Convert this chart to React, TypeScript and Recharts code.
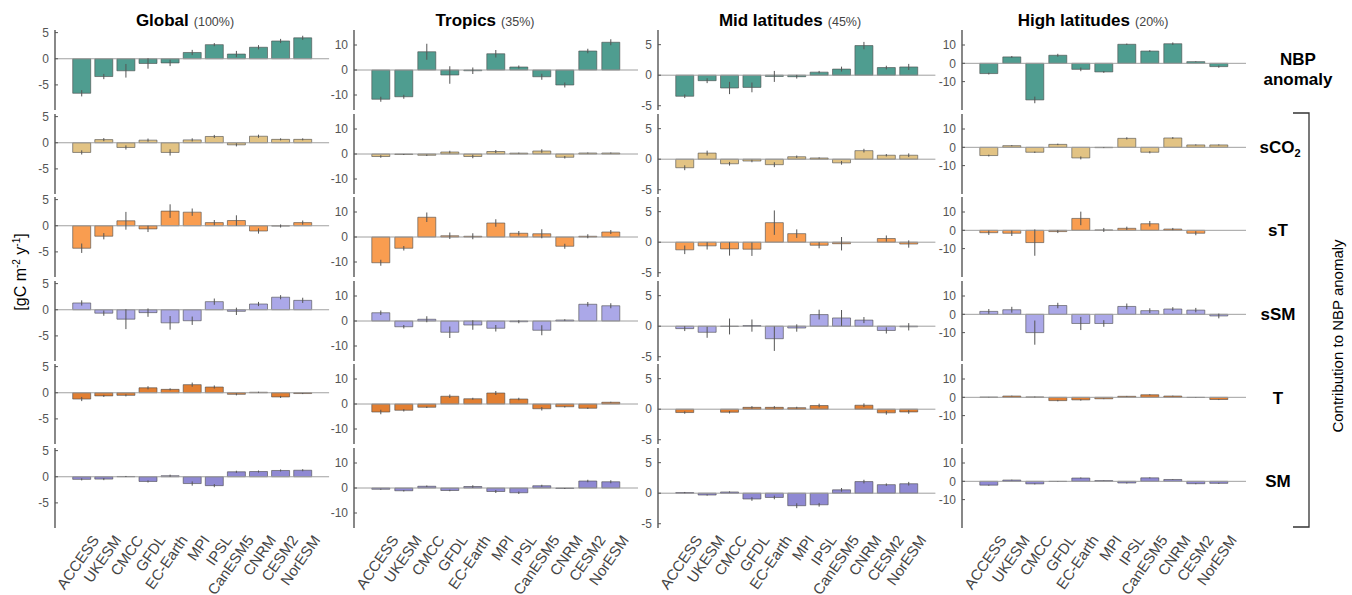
import React from 'react';
import {
  BarChart,
  Bar,
  XAxis,
  YAxis,
  ErrorBar,
  ReferenceLine,
} from 'recharts';

const models = ['ACCESS', 'UKESM', 'CMCC', 'GFDL', 'EC-Earth', 'MPI', 'IPSL', 'CanESM5', 'CNRM', 'CESM2', 'NorESM'];

// Global
const globalNbp = [-6.6, -3.4, -2.3, -0.9, -0.8, 1.2, 2.7, 0.9, 2.2, 3.4, 4.0];
const globalNbpErr = [0.6, 0.5, 1.3, 1.0, 0.6, 0.5, 0.3, 0.6, 0.4, 0.4, 0.4];
const globalSco2 = [-1.85, 0.6, -0.9, 0.5, -1.85, 0.55, 1.2, -0.4, 1.25, 0.65, 0.65];
const globalSco2Err = [0.4, 0.3, 0.4, 0.3, 0.6, 0.3, 0.3, 0.3, 0.3, 0.2, 0.2];
const globalSt = [-4.3, -2.0, 0.95, -0.6, 2.8, 2.6, 0.6, 1.0, -1.0, -0.05, 0.6];
const globalStErr = [0.9, 0.6, 1.7, 0.6, 1.3, 0.7, 0.5, 1.0, 0.5, 0.3, 0.4];
const globalSsm = [1.3, -0.65, -1.8, -0.55, -2.5, -2.1, 1.55, -0.3, 1.1, 2.4, 1.8];
const globalSsmErr = [0.5, 0.5, 1.9, 0.8, 1.3, 0.8, 0.6, 0.7, 0.4, 0.4, 0.5];
const globalT = [-1.2, -0.6, -0.5, 0.95, 0.65, 1.55, 1.1, -0.3, 0.1, -0.8, -0.15];
const globalTErr = [0.4, 0.2, 0.2, 0.3, 0.2, 0.4, 0.3, 0.2, 0.1, 0.2, 0.1];
const globalSm = [-0.5, -0.45, 0.05, -0.9, 0.2, -1.3, -1.7, 0.95, 1.0, 1.2, 1.25];
const globalSmErr = [0.2, 0.2, 0.1, 0.2, 0.2, 0.4, 0.3, 0.2, 0.2, 0.2, 0.2];

// Tropics
const tropicsNbp = [-11.7, -10.7, 7.3, -2.0, -0.3, 6.5, 1.2, -2.7, -6.0, 7.6, 11.1];
const tropicsNbpErr = [1.0, 0.8, 3.2, 3.5, 1.3, 1.5, 0.6, 1.2, 1.0, 0.9, 1.2];
const tropicsSco2 = [-1.0, -0.2, -0.5, 0.8, -1.0, 1.0, 0.35, 1.2, -1.3, 0.4, 0.4];
const tropicsSco2Err = [0.5, 0.2, 0.3, 0.5, 0.7, 0.6, 0.2, 0.7, 0.5, 0.2, 0.2];
const tropicsSt = [-10.3, -4.5, 7.9, 0.5, 0.3, 5.6, 1.5, 1.3, -3.7, 0.3, 2.0];
const tropicsStErr = [1.2, 0.9, 1.9, 1.3, 1.2, 1.5, 0.9, 1.8, 1.0, 0.8, 0.8];
const tropicsSsm = [3.3, -2.3, 0.7, -4.5, -1.6, -2.9, -0.3, -3.7, 0.4, 6.7, 6.1];
const tropicsSsmErr = [0.9, 0.7, 1.2, 2.3, 1.9, 1.3, 0.6, 2.0, 0.3, 0.9, 1.0];
const tropicsT = [-3.2, -2.5, -1.3, 3.1, 2.1, 4.4, 2.0, -1.9, -1.1, -1.7, 0.7];
const tropicsTErr = [0.9, 0.5, 0.3, 0.7, 0.4, 0.8, 0.5, 0.7, 0.3, 0.3, 0.2];
const tropicsSm = [-0.5, -1.1, 0.7, -1.0, 0.6, -1.4, -1.9, 0.9, -0.2, 2.8, 2.5];
const tropicsSmErr = [0.2, 0.3, 0.3, 0.3, 0.5, 0.6, 0.5, 0.4, 0.2, 0.5, 0.6];

// Mid latitudes
const midNbp = [-3.45, -0.9, -2.1, -2.0, -0.2, -0.25, 0.5, 1.0, 4.85, 1.25, 1.35];
const midNbpErr = [0.3, 0.4, 1.0, 0.8, 0.9, 0.3, 0.2, 0.4, 0.6, 0.3, 0.5];
const midSco2 = [-1.4, 1.0, -0.75, -0.3, -0.9, 0.4, 0.2, -0.6, 1.4, 0.65, 0.65];
const midSco2Err = [0.4, 0.4, 0.3, 0.2, 0.4, 0.2, 0.1, 0.3, 0.3, 0.2, 0.3];
const midSt = [-1.25, -0.6, -1.1, -1.15, 3.2, 1.4, -0.5, -0.25, 0, 0.6, -0.3];
const midStErr = [0.7, 0.6, 1.1, 1.1, 2.0, 0.7, 0.5, 1.1, 0.7, 0.5, 0.6];
const midSsm = [-0.4, -1.0, -0.05, 0.1, -2.05, -0.3, 1.9, 1.35, 1.0, -0.7, -0.1];
const midSsmErr = [0.4, 0.9, 1.3, 1.0, 2.0, 0.6, 0.8, 1.3, 0.5, 0.5, 0.6];
const midT = [-0.55, 0, -0.5, 0.3, 0.3, 0.25, 0.6, 0, 0.65, -0.6, -0.45];
const midTErr = [0.2, 0.05, 0.2, 0.2, 0.2, 0.15, 0.3, 0.2, 0.3, 0.3, 0.3];
const midSm = [0.1, -0.3, 0.2, -0.95, -0.7, -2.05, -1.9, 0.55, 1.9, 1.4, 1.55];
const midSmErr = [0.1, 0.1, 0.1, 0.3, 0.3, 0.4, 0.3, 0.3, 0.3, 0.2, 0.3];

// High latitudes
const highNbp = [-5.6, 3.5, -20.0, 4.4, -3.3, -4.7, 10.4, 6.7, 10.7, 0.9, -1.8];
const highNbpErr = [0.5, 0.5, 1.8, 0.8, 1.0, 0.5, 0.4, 0.5, 0.7, 0.2, 0.6];
const highSco2 = [-4.5, 0.9, -2.7, 1.6, -5.8, -0.2, 4.9, -2.7, 5.1, 1.3, 1.3];
const highSco2Err = [0.5, 0.3, 0.4, 0.4, 0.8, 0.2, 0.6, 0.6, 0.5, 0.3, 0.3];
const highSt = [-1.3, -1.6, -6.7, -0.7, 6.5, 0.2, 1.1, 3.6, 0.7, -1.6, 0];
const highStErr = [1.2, 1.5, 7.2, 0.8, 3.7, 1.1, 0.9, 1.5, 0.6, 1.1, 1.3];
const highSsm = [1.6, 2.5, -10.0, 4.8, -5.0, -5.0, 4.3, 2.0, 2.9, 2.3, -0.9];
const highSsmErr = [1.3, 1.6, 6.6, 1.5, 3.6, 1.8, 1.6, 1.3, 1.0, 1.2, 1.3];
const highT = [0.1, 0.7, 0.2, -1.8, -1.4, -0.8, 0.55, 1.4, 0.7, -0.1, -1.2];
const highTErr = [0.1, 0.2, 0.2, 0.4, 0.4, 0.2, 0.2, 0.3, 0.2, 0.1, 0.3];
const highSm = [-2.1, 0.7, -1.4, -0.1, 1.8, 0.4, -0.9, 1.9, 1.0, -1.3, -1.1];
const highSmErr = [0.3, 0.2, 0.3, 0.1, 0.3, 0.1, 0.3, 0.3, 0.2, 0.3, 0.3];

const rowColors = ['#4f9d90', '#e2c384', '#f99d50', '#aba8e8', '#e27f32', '#8f89d3'];

const columns = [
  {
    title: 'Global', share: '(100%)', titleX: 185, axisX: 55, band: 22.1,
    domain: [-9.8, 5.5], ticks: [-5, 0, 5],
    vals: [globalNbp, globalSco2, globalSt, globalSsm, globalT, globalSm],
    errs: [globalNbpErr, globalSco2Err, globalStErr, globalSsmErr, globalTErr, globalSmErr],
  },
  {
    title: 'Tropics', share: '(35%)', titleX: 485, axisX: 354, band: 23,
    domain: [-16, 16], ticks: [-10, 0, 10],
    vals: [tropicsNbp, tropicsSco2, tropicsSt, tropicsSsm, tropicsT, tropicsSm],
    errs: [tropicsNbpErr, tropicsSco2Err, tropicsStErr, tropicsSsmErr, tropicsTErr, tropicsSmErr],
  },
  {
    title: 'Mid latitudes', share: '(45%)', titleX: 790, axisX: 658, band: 22.4,
    domain: [-5.7, 7.4], ticks: [-5, 0, 5],
    vals: [midNbp, midSco2, midSt, midSsm, midT, midSm],
    errs: [midNbpErr, midSco2Err, midStErr, midSsmErr, midTErr, midSmErr],
  },
  {
    title: 'High latitudes', share: '(20%)', titleX: 1093, axisX: 962, band: 23,
    domain: [-25.5, 18.2], ticks: [-10, 0, 10],
    vals: [highNbp, highSco2, highSt, highSsm, highT, highSm],
    errs: [highNbpErr, highSco2Err, highStErr, highSsmErr, highTErr, highSmErr],
  },
];

const FONT = '"Liberation Sans", Arial, Helvetica, sans-serif';
const Y_W = 40;
const PLOT_H = 80;
const ROW_TOP = 30;
const ROW_STEP = 83.6;
const PAD = 15.5;
const X_AXIS_H = 72;
const M = 8; // spare room above/below each plot so tick labels are not clipped

const YTick = (props: any) => {
  const { y, payload } = props;
  return (
    <g>
      <line x1={Y_W} x2={Y_W + 3} y1={y} y2={y} stroke="#555" strokeWidth={1} />
      <text x={Y_W - 6} y={y} dy="0.35em" textAnchor="end" fontSize={12} fill="#555" fontFamily={FONT}>
        {payload.value}
      </text>
    </g>
  );
};

const XTick = (props: any) => {
  const { x, y, payload } = props;
  return (
    <g transform={`translate(${x + 14},${y + 9}) rotate(-55)`}>
      <text x={0} y={0} dy="0.35em" textAnchor="end" fontSize={15} fill="#444" fontFamily={FONT}>
        {payload.value}
      </text>
    </g>
  );
};

const Panel = ({ col, row }: { col: any; row: number }) => {
  const isBottom = row === 5;
  const plotW = 11 * col.band + 2 * PAD;
  const data = models.map((m, i) => ({ name: m, v: col.vals[row][i], e: col.errs[row][i] }));
  return (
    <div style={{ position: 'absolute', left: col.axisX - Y_W, top: ROW_TOP + row * ROW_STEP - M }}>
      <BarChart
        width={Y_W + plotW + 2}
        height={PLOT_H + 2 * M + (isBottom ? X_AXIS_H : 0)}
        data={data}
        margin={{ top: M, right: 2, bottom: M, left: 0 }}
        barCategoryGap="10%"
      >
        <XAxis
          dataKey="name"
          hide={!isBottom}
          height={X_AXIS_H}
          axisLine={false}
          tickLine={false}
          tickSize={0}
          tickMargin={0}
          interval={0}
          tick={<XTick />}
          padding={{ left: PAD, right: PAD }}
        />
        <YAxis
          type="number"
          domain={col.domain}
          ticks={col.ticks}
          interval={0}
          allowDataOverflow
          width={Y_W}
          axisLine={{ stroke: '#555', strokeWidth: 1.4 }}
          tickLine={false}
          tickSize={0}
          tick={<YTick />}
        />
        <ReferenceLine y={0} stroke="#a0a0a0" strokeWidth={1} />
        <Bar
          dataKey="v"
          fill={rowColors[row]}
          stroke="#4a4a4a"
          strokeWidth={0.6}
          isAnimationActive={false}
        >
          <ErrorBar dataKey="e" width={0} stroke="#555" strokeWidth={1} direction="y" isAnimationActive={false} />
        </Bar>
      </BarChart>
    </div>
  );
};

const rowLabels = ['NBP', 'sCO2', 'sT', 'sSM', 'T', 'SM'];

export default function App() {
  const highZero0 = 63.3;
  return (
    <div style={{ position: 'absolute', left: 0, top: 0, width: 1352, height: 595, background: '#fff', fontFamily: FONT }}>
      {columns.map((col) =>
        [0, 1, 2, 3, 4, 5].map((r) => <Panel key={col.title + r} col={col} row={r} />)
      )}
      <svg width={1352} height={595} style={{ position: 'absolute', left: 0, top: 0, pointerEvents: 'none' }}>
        {columns.map((col) => (
          <text key={col.title} x={col.titleX} y={26} textAnchor="middle" fontFamily={FONT}>
            <tspan fontSize={17} fontWeight="bold" fill="#000">{col.title}</tspan>
            <tspan fontSize={12.5} fill="#444" dx={5}>{col.share}</tspan>
          </text>
        ))}
        {rowLabels.map((lab, r) => {
          const y = highZero0 + r * ROW_STEP;
          if (r === 0) {
            return (
              <text key={lab} x={1298} y={y} textAnchor="middle" fontSize={17} fontWeight="bold" fontFamily={FONT} fill="#000">
                <tspan x={1298} dy="0.1em">NBP</tspan>
                <tspan x={1298} dy="1.2em">anomaly</tspan>
              </text>
            );
          }
          if (lab === 'sCO2') {
            return (
              <text key={lab} x={1280} y={y} dy="0.35em" textAnchor="middle" fontSize={17} fontWeight="bold" fontFamily={FONT} fill="#000">
                sCO<tspan fontSize={11} dy={4}>2</tspan>
              </text>
            );
          }
          return (
            <text key={lab} x={1278} y={y} dy="0.35em" textAnchor="middle" fontSize={17} fontWeight="bold" fontFamily={FONT} fill="#000">
              {lab}
            </text>
          );
        })}
        <path d="M1293,113 H1309 V527 H1293" fill="none" stroke="#333" strokeWidth={1.3} />
        <text
          transform="translate(1338,336) rotate(-90)"
          textAnchor="middle"
          dy="0.35em"
          fontSize={15}
          fontFamily={FONT}
          fill="#000"
        >
          Contribution to NBP anomaly
        </text>
        <text transform="translate(20,272) rotate(-90)" textAnchor="middle" dy="0.35em" fontSize={16} fontFamily={FONT} fill="#000">
          [gC m<tspan fontSize={10} dy={-6}>-2</tspan>
          <tspan fontSize={16} dy={6}> y</tspan>
          <tspan fontSize={10} dy={-6}>-1</tspan>
          <tspan fontSize={16} dy={6}>]</tspan>
        </text>
      </svg>
    </div>
  );
}
